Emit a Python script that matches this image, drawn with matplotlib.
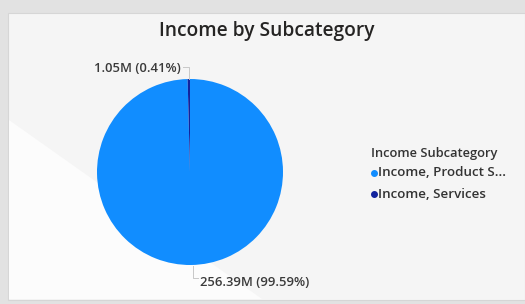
import matplotlib.pyplot as plt
from matplotlib.patches import Rectangle, Polygon

categories = ["Income, Product Sales", "Income, Services"]
values = [256.39e6, 1.05e6]
colors = ["#118DFF", "#12239E"]
legend_labels = ["Income, Product S...", "Income, Services"]

W, H = 525, 304
plt.rcParams["font.family"] = ["Open Sans", "DejaVu Sans"]

fig = plt.figure(figsize=(W / 100, H / 100), dpi=100)
fig.patch.set_facecolor("#e2e2e2")
ax = fig.add_axes([0, 0, 1, 1])


def py(y):
    return H - y


# pie centred on the panel's left half
cx, cy, r = 190, py(172), 93
ax.pie(values, colors=colors, startangle=90, counterclock=False,
       center=(cx, cy), radius=r, frame=True,
       wedgeprops=dict(linewidth=0, zorder=2))
ax.set_xlim(0, W)
ax.set_ylim(0, H)
ax.set_aspect("equal")
ax.axis("off")

# panel background
ax.add_patch(Rectangle((8, py(300)), W - 8, 287, facecolor="#f5f5f5",
                       edgecolor="#d6d6d6", linewidth=0.8, zorder=0))
ax.add_patch(Polygon([(9, py(120)), (9, py(299)), (262, py(299))],
                     closed=True, facecolor="#fcfcfc", edgecolor="none",
                     zorder=0.5))

ax.text(267, py(31), "Income by Subcategory", ha="center", va="center",
        fontsize=13.8, fontweight="semibold", color="#252423")

total = sum(values)
labels = [f"{v / 1e6:.2f}M ({v / total * 100:.2f}%)" for v in values]

# label for services (top)
ax.plot([183, 189, 189], [py(67), py(67), py(79)], color="#c8c8c8", lw=0.7)
ax.text(181, py(69), labels[1], ha="right", va="center", fontsize=9.4,
        fontweight="semibold", color="#3a3a3a")
# label for product (bottom)
ax.plot([193, 193, 198], [py(266), py(278), py(278)], color="#c8c8c8", lw=0.7)
ax.text(200, py(282), labels[0], ha="left", va="center", fontsize=9.4,
        fontweight="semibold", color="#3a3a3a")

# legend
ax.text(371, py(153), "Income Subcategory", ha="left", va="center",
        fontsize=9.3, fontweight="semibold", color="#333333")
for i, (lab, col) in enumerate(zip(legend_labels, colors)):
    yy = py(173 + 21 * i)
    ax.plot([374], [yy], marker="o", markersize=4, color=col, lw=0)
    ax.text(378, yy, lab, ha="left", va="center", fontsize=9.6,
            fontweight="semibold", color="#333333")

fig.savefig("out.png", dpi=100, facecolor=fig.get_facecolor())
